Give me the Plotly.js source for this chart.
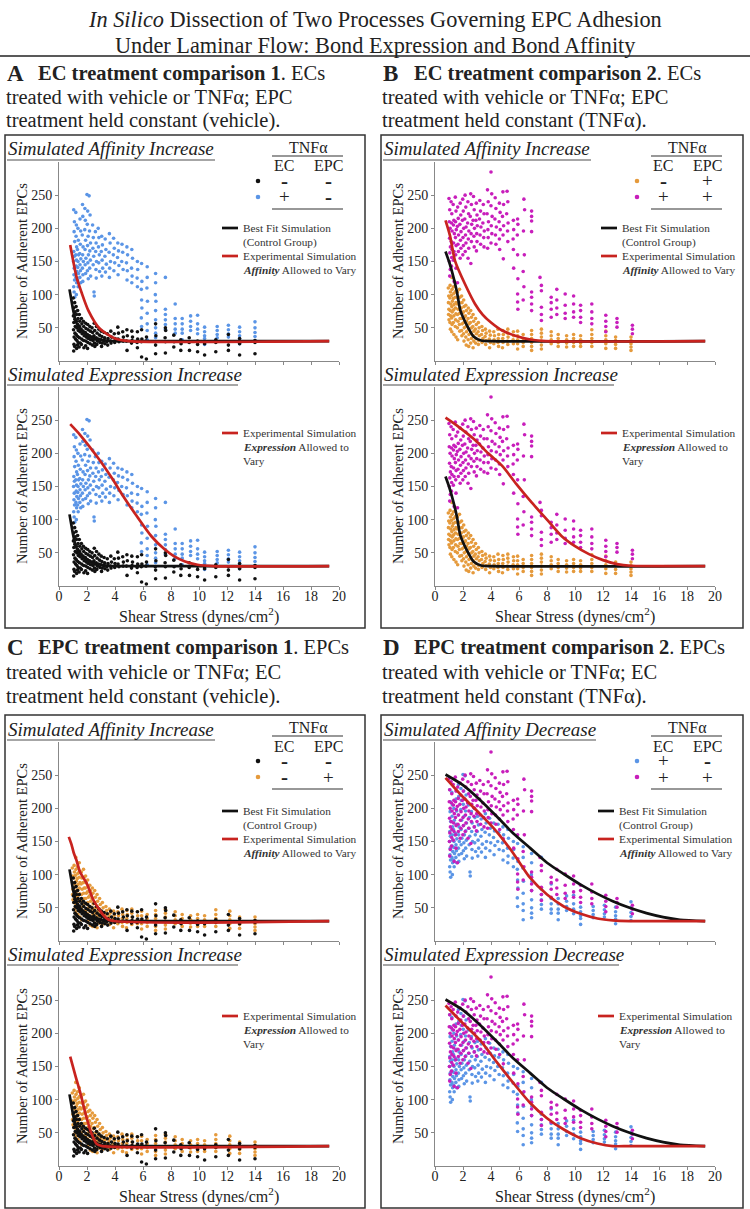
<!DOCTYPE html>
<html>
<head>
<meta charset="utf-8">
<script src="https://cdn.plot.ly/plotly-3.0.1.min.js"></script>
<style>html,body{margin:0;padding:0;background:#fff}</style>
</head>
<body>
<div id="fig" style="width:750px;height:1209px"></div>
<script>
// ---- measured adhesion data (shear stress, adherent EPCs) ----
// EC vehicle / EPC vehicle (black)
var ctrlPts = [[1.02,95],[1.05,80],[1.03,68],[1.06,58],[1.04,47],[1.08,36],[1.07,25],[1.05,15],
  [1.12,88],[1.15,74],[1.13,63],[1.16,52],[1.14,42],[1.18,33],[1.12,22],
  [1.22,82],[1.25,70],[1.24,60],[1.27,50],[1.23,40],[1.28,31],[1.26,19],
  [1.33,76],[1.36,64],[1.35,55],[1.38,46],[1.34,37],[1.37,28],[1.32,24],
  [1.45,70],[1.48,60],[1.47,52],[1.5,44],[1.46,35],[1.52,27],[1.44,21],
  [1.6,64],[1.63,56],[1.58,48],[1.65,41],[1.62,33],[1.6,25],
  [1.74,60],[1.77,52],[1.72,45],[1.8,38],[1.76,31],[1.78,20],
  [1.9,57],[1.93,49],[1.88,43],[1.95,36],[1.92,30],[1.9,23],
  [2.05,55],[2.08,47],[2.03,40],[2.1,34],[2.06,28],[2.04,19],
  [2.2,52],[2.24,45],[2.18,38],[2.26,32],[2.22,26],
  [2.36,50],[2.4,43],[2.34,36],[2.42,31],[2.38,24],
  [2.52,57],[2.55,46],[2.5,38],[2.58,33],[2.53,27],[2.56,22],
  [2.68,52],[2.72,42],[2.66,35],[2.74,30],[2.7,25],
  [2.85,48],[2.9,39],[2.83,33],[2.92,28],
  [3.02,45],[3.06,37],[3.0,32],[3.08,27],[3.04,22],
  [3.22,43],[3.26,35],[3.2,30],[3.28,26],
  [3.45,41],[3.5,34],[3.42,29],[3.48,24],
  [3.7,45],[3.75,36],[3.68,30],[3.72,27],
  [3.95,41],[4.0,34],[3.98,28],
  [4.2,51],[4.25,42],[4.22,33],[4.28,29],
  [4.55,44],[4.6,36],[4.58,30],
  [4.85,47],[4.88,38],[4.82,30],[4.86,16],
  [5.2,45],[5.25,36],[5.22,31],[5.18,27],
  [5.6,44],[5.62,33],[5.58,28],[5.6,20],
  [5.9,47],[5.92,33],[5.88,29],[5.9,6],
  [6.25,36],[6.22,30],[6.24,3],
  [6.9,56],[6.92,38],[6.88,29],[6.9,24],[6.9,11],
  [7.6,50],[7.62,46],[7.58,35],[7.6,29],[7.6,12],
  [8.2,39],[8.22,29],[8.2,21],
  [8.7,32],[8.72,26],[8.7,16],
  [9.3,35],[9.3,28],[9.32,16],
  [9.9,30],[9.9,25],[9.9,14],
  [10.4,29],[10.4,26],[10.4,9],
  [11.2,32],[11.2,28],[11.2,14],
  [12.1,40],[12.1,29],[12.1,24],[12.1,16],
  [12.9,34],[12.9,26],[12.9,9],
  [14.0,31],[14.0,28],[14.0,11]];

// EC TNFa / EPC vehicle (blue)
var ecTnfPts = [[1.05,228],[1.1,210],[1.08,195],[1.12,180],[1.06,165],[1.1,158],[1.04,150],[1.09,140],[1.07,130],[1.11,122],[1.05,112],[1.08,104],[1.12,96],
  [1.2,224],[1.24,205],[1.22,188],[1.26,172],[1.2,160],[1.25,152],[1.23,143],[1.27,135],[1.21,126],[1.26,118],[1.24,100],
  [1.35,200],[1.38,182],[1.32,168],[1.4,160],[1.36,150],[1.34,141],[1.39,132],[1.33,122],[1.37,112],
  [1.5,214],[1.55,196],[1.52,176],[1.48,162],[1.56,154],[1.5,145],[1.53,136],[1.49,126],[1.55,118],
  [1.68,236],[1.7,218],[1.66,190],[1.72,172],[1.69,160],[1.74,150],[1.67,140],[1.71,130],[1.7,120],
  [1.85,230],[1.88,212],[1.84,198],[1.9,182],[1.86,168],[1.92,155],[1.87,145],[1.9,132],
  [2.0,251],[2.05,226],[2.02,206],[2.08,188],[2.04,174],[2.1,160],[2.06,148],[2.03,136],[2.09,124],
  [2.15,249],[2.22,220],[2.18,196],[2.25,178],[2.2,166],[2.24,152],[2.19,140],[2.26,128],
  [2.4,205],[2.45,186],[2.42,170],[2.48,158],[2.44,145],[2.5,104],[2.52,98],
  [2.6,195],[2.65,178],[2.62,165],[2.68,150],[2.64,138],[2.66,125],
  [2.8,200],[2.85,186],[2.82,172],[2.88,160],[2.84,148],[2.9,135],
  [3.05,188],[3.1,175],[3.02,165],[3.08,152],[3.12,140],[3.06,128],
  [3.3,184],[3.35,168],[3.28,158],[3.38,146],[3.32,134],
  [3.6,192],[3.65,178],[3.58,164],[3.68,150],[3.62,140],[3.6,126],
  [3.9,185],[3.95,170],[3.88,160],[3.98,148],[3.92,136],
  [4.2,178],[4.25,166],[4.18,156],[4.28,144],[4.22,130],
  [4.5,176],[4.55,164],[4.48,150],[4.58,138],
  [4.85,172],[4.9,160],[4.82,148],[4.88,136],[4.86,122],
  [5.2,168],[5.25,155],[5.18,140],[5.22,128],[5.2,118],
  [5.6,150],[5.62,138],[5.58,125],[5.6,112],
  [5.9,147],[5.92,120],[5.88,108],[5.9,92],[5.92,80],[5.88,65],[5.9,52],
  [6.3,142],[6.3,126],[6.28,110],[6.32,90],[6.3,72],[6.3,56],[6.3,46],[6.3,32],
  [6.9,132],[6.9,118],[6.88,100],[6.92,90],[6.9,76],[6.9,62],[6.9,50],[6.9,42],[6.9,35],
  [7.6,126],[7.6,78],[7.6,70],[7.6,62],[7.6,55],[7.6,48],
  [8.3,86],[8.3,64],[8.3,56],[8.3,48],[8.3,42],
  [8.8,64],[8.8,56],[8.8,48],[8.8,42],[8.8,32],
  [9.4,68],[9.4,60],[9.4,52],[9.4,46],
  [9.9,69],[9.9,56],[9.9,48],[9.9,41],
  [10.4,51],[10.4,44],[10.4,38],[10.4,34],[10.4,25],
  [11.3,52],[11.3,46],[11.3,40],[11.3,35],
  [12.1,54],[12.1,47],[12.1,41],[12.1,36],
  [12.9,51],[12.9,44],[12.9,38],[12.9,33],[12.9,26],
  [14.0,59],[14.0,50],[14.0,43],[14.0,37],[14.0,31]];

// EC vehicle / EPC TNFa (orange)
var epcTnfPts = [[0.95,110],[0.98,98],[0.96,88],[0.99,78],[0.97,70],[1.0,62],
  [1.08,114],[1.1,104],[1.06,95],[1.12,86],[1.09,76],[1.11,68],[1.07,58],[1.1,48],
  [1.2,126],[1.22,108],[1.18,99],[1.24,90],[1.2,82],[1.23,74],[1.19,65],[1.22,55],[1.2,44],
  [1.32,112],[1.35,102],[1.3,94],[1.36,85],[1.33,77],[1.34,68],[1.31,58],[1.35,40],
  [1.45,118],[1.48,105],[1.44,96],[1.5,88],[1.46,80],[1.49,71],[1.47,62],[1.45,52],[1.5,36],
  [1.6,104],[1.63,95],[1.58,86],[1.65,78],[1.61,70],[1.64,60],[1.6,50],[1.62,32],
  [1.75,108],[1.78,96],[1.73,88],[1.8,80],[1.76,72],[1.79,64],[1.74,55],[1.77,45],
  [1.9,98],[1.93,88],[1.88,80],[1.95,72],[1.91,64],[1.94,56],[1.9,46],[1.92,38],
  [2.05,92],[2.08,82],[2.03,74],[2.1,66],[2.06,58],[2.09,50],[2.04,41],[2.07,30],
  [2.2,84],[2.24,76],[2.18,68],[2.26,60],[2.22,52],[2.25,44],[2.2,36],[2.23,24],
  [2.38,80],[2.42,72],[2.36,64],[2.44,56],[2.4,48],[2.43,40],[2.37,32],[2.41,22],
  [2.55,76],[2.6,66],[2.53,58],[2.62,50],[2.57,42],[2.6,34],[2.55,27],
  [2.72,70],[2.76,60],[2.7,52],[2.78,45],[2.74,38],[2.77,30],[2.72,20],
  [2.9,64],[2.95,55],[2.88,48],[2.96,41],[2.92,34],[2.9,27],
  [3.1,58],[3.15,50],[3.08,44],[3.16,38],[3.12,31],[3.1,25],
  [3.35,52],[3.4,46],[3.32,40],[3.42,34],[3.36,28],
  [3.6,48],[3.65,42],[3.58,37],[3.66,31],[3.62,25],
  [3.9,45],[3.95,39],[3.88,33],[3.96,28],[3.9,20],
  [4.2,44],[4.25,38],[4.22,32],[4.2,26],
  [4.5,48],[4.55,40],[4.52,34],[4.5,28],[4.54,22],
  [4.85,46],[4.88,40],[4.84,34],[4.86,28],[4.82,20],
  [5.2,48],[5.2,42],[5.22,36],[5.18,30],[5.2,25],
  [5.6,44],[5.62,38],[5.58,32],[5.6,26],
  [5.9,45],[5.9,38],[5.9,32],[5.9,26],[5.9,18],
  [6.3,40],[6.3,34],[6.3,28],[6.3,22],
  [6.9,46],[6.9,40],[6.9,34],[6.9,28],[6.9,22],[6.9,16],
  [7.6,48],[7.6,42],[7.6,36],[7.6,30],[7.6,24],[7.6,18],
  [8.3,44],[8.3,38],[8.3,32],[8.3,26],
  [8.8,40],[8.8,34],[8.8,28],[8.8,22],
  [9.4,38],[9.4,32],[9.4,27],[9.4,21],
  [9.9,40],[9.9,34],[9.9,28],[9.9,22],
  [10.4,38],[10.4,32],[10.4,27],[10.4,22],
  [11.2,47],[11.2,40],[11.2,34],[11.2,28],[11.2,22],
  [12.2,45],[12.2,38],[12.2,32],[12.2,26],[12.2,19],
  [12.9,36],[12.9,31],[12.9,25],[12.9,19],
  [14.0,36],[14.0,31],[14.0,26],[14.0,21],[14.0,16]];

// EC TNFa / EPC TNFa (magenta)
var bothTnfPts = [[1.0,245],[1.05,228],[1.02,210],[1.08,200],[1.04,185],[1.1,172],[1.06,163],[1.03,150],[1.09,138],[1.05,128],
  [1.15,240],[1.2,222],[1.18,208],[1.22,196],[1.16,180],[1.21,168],[1.19,156],[1.17,143],
  [1.3,236],[1.35,212],[1.32,205],[1.38,192],[1.33,178],[1.36,165],[1.31,152],[1.37,120],
  [1.45,247],[1.5,226],[1.47,210],[1.52,198],[1.46,186],[1.51,174],[1.48,160],[1.5,140],
  [1.62,232],[1.66,215],[1.6,203],[1.68,190],[1.64,176],[1.67,165],[1.61,118],
  [1.8,238],[1.84,220],[1.78,206],[1.86,195],[1.82,182],[1.85,170],[1.8,155],
  [1.98,244],[2.02,226],[1.96,212],[2.05,200],[2.0,186],[2.03,174],[1.99,160],
  [2.15,250],[2.2,232],[2.13,214],[2.22,202],[2.18,190],[2.21,178],[2.16,165],
  [2.35,240],[2.4,222],[2.33,208],[2.42,196],[2.38,184],[2.41,170],[2.36,155],
  [2.55,252],[2.6,236],[2.52,218],[2.62,206],[2.58,192],[2.6,180],[2.56,147],
  [2.75,248],[2.8,228],[2.72,212],[2.82,200],[2.78,188],[2.8,172],
  [2.95,238],[3.0,220],[2.92,212],[3.02,204],[2.98,192],[3.0,180],[2.96,166],
  [3.2,242],[3.25,226],[3.18,214],[3.28,202],[3.22,190],[3.26,176],
  [3.45,236],[3.5,222],[3.42,208],[3.52,196],[3.48,186],[3.5,172],
  [3.75,258],[3.8,240],[3.72,222],[3.82,210],[3.78,198],[3.8,186],[3.76,170],
  [4.0,285],[4.05,252],[4.0,234],[4.08,218],[4.02,204],[4.06,192],[4.0,178],
  [4.3,246],[4.35,230],[4.28,214],[4.38,202],[4.32,190],[4.35,176],
  [4.6,238],[4.65,224],[4.58,210],[4.66,198],[4.6,184],[4.62,168],
  [4.85,255],[4.9,236],[4.82,218],[4.9,204],[4.86,190],[4.88,154],
  [5.15,256],[5.2,240],[5.12,222],[5.22,208],[5.18,196],[5.2,180],
  [5.6,212],[5.62,198],[5.58,184],[5.6,168],[5.62,140],
  [5.9,214],[5.92,206],[5.88,190],[5.9,160],[5.92,124],[5.9,101],[5.9,89],[5.92,78],
  [6.35,244],[6.4,228],[6.32,196],[6.38,160],[6.3,135],[6.35,112],[6.3,92],
  [6.9,226],[6.9,218],[6.9,211],[6.9,195],[6.9,104],[6.9,96],[6.9,86],[6.9,76],
  [7.5,126],[7.6,114],[7.6,106],[7.6,81],[7.6,70],[7.6,61],
  [8.3,96],[8.3,88],[8.3,78],[8.3,66],
  [8.7,108],[8.7,92],[8.7,80],[8.7,70],
  [9.3,101],[9.3,84],[9.3,72],[9.3,64],
  [9.9,98],[9.9,86],[9.9,74],[9.9,66],
  [10.4,84],[10.4,76],[10.4,66],[10.4,58],
  [11.2,86],[11.2,74],[11.2,64],[11.2,56],
  [12.2,69],[12.2,60],[12.2,52],[12.2,44],
  [13.0,64],[13.0,58],[13.0,51],
  [14.1,54],[14.1,48],[14.1,41]];

// ---- simulation curves ----
var fitCtrlX = [0.75,0.9,1.0,1.15,1.3,1.5,1.8,2.2,2.6,3.0,3.5,4.5,19.3];
var fitCtrlY = [108,90,78,64,55,48,42,37,34,32,30.5,30,30];
var affAX = [0.8,1.26,1.6,2.1,2.9,4.0,5.0,19.3];
var affAY = [175,126,104,76,49,34,30,30];
var exprAX = [0.8,1.5,2.9,3.8,4.6,5.6,6.6,7.5,8.2,9.0,9.9,11.0,19.3];
var exprAY = [244,228,190,162,135,104,75,56,45,37,32,30,30];

var fitEpcX = [0.75,1.0,1.2,1.55,1.8,2.0,2.4,2.75,3.3,4.0,19.3];
var fitEpcY = [165,150,136,106,77,66,49,37,31,30,30];
var affBX = [0.75,1.07,1.43,2.14,2.86,3.4,4.0,4.8,5.9,6.9,7.9,19.3];
var affBY = [212,189,151,116,86,70,58,46,37,32,30,30];
var exprBX = [0.75,1.5,2.86,3.8,4.8,5.8,6.9,8.0,9.05,10.0,11.0,12.0,13.0,14.0,19.3];
var exprBY = [254,243,220,200,181,154,126,100,75,60,48,39,33,30.5,30];

var affCX = [0.7,0.9,1.05,1.26,1.5,1.98,2.45,2.93,3.3,3.7,19.3];
var affCY = [157,145,133,121,104,87,62,46,36,31,30];
var exprCX = [0.8,1.2,1.5,1.98,2.3,2.7,3.1,19.3];
var exprCY = [165,134,112,72,50,33,30,30];

var fitEcX = [0.75,2.0,3.2,4.4,5.6,6.8,8.0,9.2,10.4,11.6,12.7,13.9,15.1,16.3,17.5,19.3];
var fitEcY = [251,235,213,188,162,140,118,101,85,71,60,50,42,36,32,30];
var affDX = [0.75,2.0,3.2,4.4,5.6,6.8,8.0,9.2,10.4,11.6,12.7,13.9,19.3];
var affDY = [246,217,192,165,132,95,70,52,41,34,31,30,30];
var exprDX = [0.75,2.0,3.2,4.4,5.6,6.8,8.0,9.2,10.4,11.6,12.7,13.9,19.3];
var exprDY = [242,215,190,157,125,95,72,55,42,34,30,30,30];

var xTicks = [0,2,4,6,8,10,12,14,16,18,20];
var yTicks = [50,100,150,200,250];

var W = 750, H = 1209;
var FONT = 'Liberation Serif, Times New Roman, serif';
var BLACK = '#111', BLUE = '#5b95e6', ORANGE = '#e59a3c', MAGENTA = '#c81ebb', RED = '#c8231f';
var KEYSIZE = 11.3;

function px(x) { return x / W; }
function py(y) { return 1 - y / H; }

var layout = {
  width: W, height: H, margin: {l: 0, r: 0, t: 0, b: 0},
  paper_bgcolor: '#fff', plot_bgcolor: 'rgba(0,0,0,0)',
  showlegend: false, annotations: [], shapes: []
};
var data = [];

function note(x, y, text, size, opt) {
  var a = {xref: 'paper', yref: 'paper', x: px(x), y: py(y), text: text, showarrow: false,
    xanchor: 'left', yanchor: 'middle', font: {family: FONT, size: size, color: '#222'}};
  for (var k in opt) a[k] = opt[k];
  layout.annotations.push(a);
}
function keytext(x, y, text) {
  note(x, y, text, KEYSIZE, {font: {family: FONT, size: KEYSIZE, color: '#333'}});
}
function hline(x0, x1, y, color, w) {
  layout.shapes.push({type: 'line', xref: 'paper', yref: 'paper', x0: px(x0), x1: px(x1), y0: py(y), y1: py(y),
    line: {color: color, width: w}});
}
function dot(x, y, color) {
  layout.shapes.push({type: 'circle', xref: 'paper', yref: 'paper', x0: px(x - 2.3), x1: px(x + 2.3),
    y0: py(y + 2.3), y1: py(y - 2.3), fillcolor: color, line: {width: 0}});
}

function makeAxes(n, x0, y0, labels) {
  var s = n === 1 ? '' : String(n);
  layout['xaxis' + s] = {domain: [px(x0), px(x0 + 280)], anchor: 'y' + s, range: [0, 20],
    tickvals: xTicks, ticks: 'outside', ticklen: 3, tickcolor: '#888', showline: true,
    linecolor: '#888', linewidth: 1, showgrid: false, zeroline: false, showticklabels: labels,
    ticklabelstandoff: -6,
    tickfont: {family: FONT, size: 14, color: '#222'}, fixedrange: true};
  layout['yaxis' + s] = {domain: [py(y0 + 199), py(y0)], anchor: 'x' + s, range: [0, 300],
    tickvals: yTicks, ticks: 'outside', ticklen: 3, tickcolor: '#888', showline: true,
    linecolor: '#888', linewidth: 1, showgrid: false, zeroline: false,
    tickfont: {family: FONT, size: 14, color: '#222'}, fixedrange: true};
  return s;
}

function pts(s, list, color) {
  data.push({type: 'scatter', mode: 'markers', xaxis: 'x' + s, yaxis: 'y' + s,
    x: list.map(function (p) { return p[0]; }), y: list.map(function (p) { return p[1]; }),
    marker: {color: color, size: 3.6}, hoverinfo: 'x+y'});
}
function curve(s, xs, ys, color) {
  data.push({type: 'scatter', mode: 'lines', xaxis: 'x' + s, yaxis: 'y' + s, x: xs, y: ys,
    line: {color: color, width: 2.7, shape: 'spline', smoothing: 0.7}, hoverinfo: 'skip'});
}

var panels = [
  {letter: 'A', dx: 0, dy: 0, kx: 0, lx: 0, headY: 73, t1: 'EC treatment comparison 1', t1b: '. ECs',
   t2: 'treated with vehicle or TNFα; EPC', t3: 'treatment held constant (vehicle).',
   subs: ['Simulated Affinity Increase', 'Simulated Expression Increase'], uw: [215, 238],
   groups: [[ecTnfPts, BLUE], [ctrlPts, BLACK]], rows: [[BLACK, '-', '-'], [BLUE, '+', '-']],
   fit: [fitCtrlX, fitCtrlY], aff: [affAX, affAY], expr: [exprAX, exprAY]},
  {letter: 'B', dx: 376, dy: 0, kx: 379, lx: 379, headY: 73, t1: 'EC treatment comparison 2', t1b: '. ECs',
   t2: 'treated with vehicle or TNFα; EPC', t3: 'treatment held constant (TNFα).',
   subs: ['Simulated Affinity Increase', 'Simulated Expression Increase'], uw: [215, 238],
   groups: [[epcTnfPts, ORANGE], [bothTnfPts, MAGENTA]], rows: [[ORANGE, '-', '+'], [MAGENTA, '+', '+']],
   fit: [fitEpcX, fitEpcY], aff: [affBX, affBY], expr: [exprBX, exprBY]},
  {letter: 'C', dx: 0, dy: 580, kx: 0, lx: 0, headY: 648, t1: 'EPC treatment comparison 1', t1b: '. EPCs',
   t2: 'treated with vehicle or TNFα; EC', t3: 'treatment held constant (vehicle).',
   subs: ['Simulated Affinity Increase', 'Simulated Expression Increase'], uw: [215, 238],
   groups: [[epcTnfPts, ORANGE], [ctrlPts, BLACK]], rows: [[BLACK, '-', '-'], [ORANGE, '-', '+']],
   fit: [fitCtrlX, fitCtrlY], aff: [affCX, affCY], expr: [exprCX, exprCY]},
  {letter: 'D', dx: 376, dy: 580, kx: 379, lx: 376, headY: 648, t1: 'EPC treatment comparison 2', t1b: '. EPCs',
   t2: 'treated with vehicle or TNFα; EC', t3: 'treatment held constant (TNFα).',
   subs: ['Simulated Affinity Decrease', 'Simulated Expression Decrease'], uw: [220, 243],
   groups: [[ecTnfPts, BLUE], [bothTnfPts, MAGENTA]], rows: [[BLUE, '+', '-'], [MAGENTA, '+', '+']],
   fit: [fitEcX, fitEcY], aff: [affDX, affDY], expr: [exprDX, exprDY]}
];

// figure title
note(375, 19, '<i>In Silico</i> Dissection of Two Processes Governing EPC Adhesion', 22.3, {xanchor: 'center'});
note(375, 45, 'Under Laminar Flow: Bond Expression and Bond Affinity', 22.3, {xanchor: 'center'});
hline(0, 750, 56, '#222', 1.5);

panels.forEach(function (p, i) {
  var dx = p.dx, dy = p.dy, hy = p.headY;
  note(5 + dx, hy, '<b>' + p.letter + '</b>', 23);
  note(36 + dx, hy, '<b>' + p.t1 + '</b>' + p.t1b, 20.5);
  note(4 + dx, hy + 24, p.t2, 20.5);
  note(4 + dx, hy + 48, p.t3, 20.5);

  // panel frame
  layout.shapes.push({type: 'rect', xref: 'paper', yref: 'paper', x0: px(5 + dx), x1: px(365 + dx + (dx ? 2 : 0)),
    y0: py(135 + dy), y1: py(628 + dy), line: {color: '#333', width: 1.5}});

  var top = makeAxes(2 * i + 1, 59 + dx, 162 + dy, false);
  var bot = makeAxes(2 * i + 2, 59 + dx, 387 + dy, true);

  [top, bot].forEach(function (s, k) {
    var oy = k ? 225 : 0;
    p.groups.forEach(function (g) { pts(s, g[0], g[1]); });
    curve(s, p.fit[0], p.fit[1], BLACK);
    if (k === 0) curve(s, p.aff[0], p.aff[1], RED);
    else curve(s, p.expr[0], p.expr[1], RED);

    // sub-heading with underline
    note(6 + dx, 149 + dy + oy, '<i>' + p.subs[k] + '</i>', 19);
    hline(7 + dx, p.uw[k] + dx, 160 + dy + oy, '#888', 1.6);

    // y title
    note(22 + dx, 261 + dy + oy, 'Number of Adherent EPCs', 14.5, {xanchor: 'center', textangle: -90});
  });
  note(199 + dx, 615 + dy, 'Shear Stress (dynes/cm<sup>2</sup>)', 16, {xanchor: 'center', yanchor: 'top', y: py(603 + dy)});

  // TNFa key
  var kx = p.kx, ky = dy;
  note(308 + kx, 147 + ky, 'TNFα', 16, {xanchor: 'center', borderpad: 0});
  hline(272 + kx, 343 + kx, 156 + ky, '#333', 1.2);
  note(284 + kx, 166 + ky, 'EC', 16, {xanchor: 'center', borderpad: 0});
  note(328 + kx, 166 + ky, 'EPC', 16, {xanchor: 'center', borderpad: 0});
  p.rows.forEach(function (r, j) {
    var ry = 181 + ky + j * 16;
    dot(258 + kx, ry, r[0]);
    note(284 + kx, ry, r[1] === '+' ? '+' : '<b>-</b>', r[1] === '+' ? 19 : 21, {xanchor: 'center', borderpad: 0});
    note(328 + kx, ry, r[2] === '+' ? '+' : '<b>-</b>', r[2] === '+' ? 19 : 21, {xanchor: 'center', borderpad: 0});
  });
  hline(272 + kx, 343 + kx, 209 + ky, '#333', 1.2);

  // line key, upper plot
  var lx = p.lx, ly = dy ? dy + 3 : 0;
  hline(222 + lx, 238 + lx, 228 + ly, BLACK, 2.7);
  keytext(241 + lx, 228 + ly, 'Best Fit Simulation');
  keytext(241 + lx, 242 + ly, '(Control Group)');
  hline(222 + lx, 238 + lx, 256 + ly, RED, 2.7);
  keytext(241 + lx, 256 + ly, 'Experimental Simulation');
  keytext(241 + lx, 270 + ly, '<b><i>Affinity</i></b> Allowed to Vary');

  // line key, lower plot
  hline(222 + lx, 238 + lx, 433 + ly, RED, 2.7);
  keytext(241 + lx, 433 + ly, 'Experimental Simulation');
  keytext(241 + lx, 447 + ly, '<b><i>Expression</i></b> Allowed to');
  keytext(241 + lx, 461 + ly, 'Vary');
});

Plotly.newPlot('fig', data, layout, {displayModeBar: false, staticPlot: true});
</script>
</body>
</html>
